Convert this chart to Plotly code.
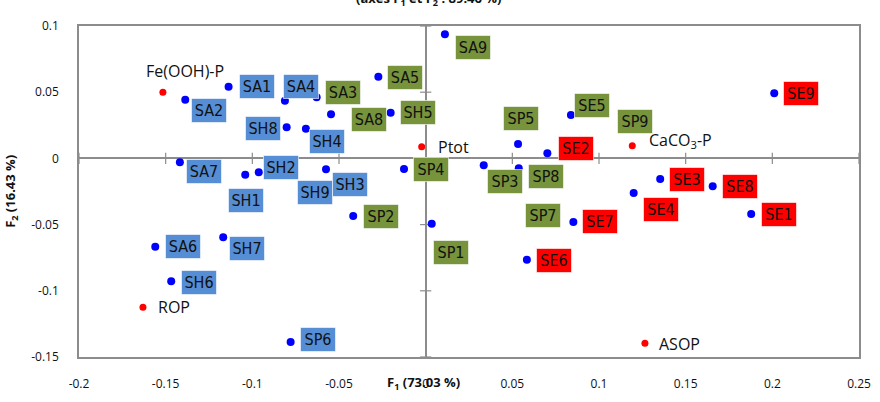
import plotly.graph_objects as go

# ---------------- data ----------------
sample_names = ["SA1", "SA2", "SA3", "SA4", "SA5", "SA6", "SA7", "SA8", "SA9",
                "SH1", "SH2", "SH3", "SH4", "SH5", "SH6", "SH7", "SH8", "SH9",
                "SP1", "SP2", "SP3", "SP4", "SP5", "SP6", "SP7", "SP8", "SP9",
                "SE1", "SE2", "SE3", "SE4", "SE5", "SE6", "SE7", "SE8", "SE9"]
sample_f1 = [-0.1137, -0.1387, -0.0629, -0.0812, -0.0273, -0.1560, -0.1418, -0.0546, 0.0111,
             -0.1041, -0.0963, -0.0575, -0.0691, -0.0202, -0.1468, -0.1168, -0.0802, -0.0656,
             0.0035, -0.0418, 0.0335, -0.0125, 0.0533, -0.0779, 0.0659, 0.0537, 0.1190,
             0.1878, 0.0702, 0.1353, 0.1200, 0.0838, 0.0584, 0.0852, 0.1656, 0.2011]
sample_f2 = [0.0542, 0.0443, 0.0461, 0.0436, 0.0617, -0.0667, -0.0029, 0.0333, 0.0937,
             -0.0123, -0.0105, -0.0082, 0.0224, 0.0345, -0.0928, -0.0596, 0.0235, -0.0254,
             -0.0493, -0.0435, -0.0052, -0.0080, 0.0109, -0.1387, -0.0420, -0.0075, 0.0260,
             -0.0420, 0.0039, -0.0156, -0.0261, 0.0328, -0.0765, -0.0480, -0.0211, 0.0492]
sample_group = ["b", "b", "g", "b", "g", "b", "b", "g", "g",
                "b", "b", "b", "b", "g", "b", "b", "b", "b",
                "g", "g", "g", "g", "g", "b", "g", "g", "g",
                "r", "r", "r", "r", "g", "r", "r", "r", "r"]

var_names = ["Fe(OOH)-P", "Ptot", "CaCO<sub>3</sub>-P", "ROP", "ASOP"]
var_f1 = [-0.1516, -0.0023, 0.1192, -0.1631, 0.1265]
var_f2 = [0.0499, 0.0088, 0.0096, -0.1125, -0.1397]

x_ticks = [-0.2, -0.15, -0.1, -0.05, 0, 0.05, 0.1, 0.15, 0.2, 0.25]
x_tick_text = ["-0.2", "-0.15", "-0.1", "-0.05", "0", "0.05", "0.1", "0.15", "0.2", "0.25"]
y_ticks = [-0.15, -0.1, -0.05, 0, 0.05, 0.1]
y_tick_text = ["-0.15", "-0.1", "-0.05", "0", "0.05", "0.1"]

title_text = "<b>(axes F<sub>1</sub> et F<sub>2</sub> : 89.46 %)</b>"
x_title = "<b>F<sub>1</sub> (73.03 %)</b>"
y_title = "<b>F<sub>2</sub> (16.43 %)</b>"

# ---------------- styles (label offsets in px) ----------------
label_shift = {
    "SA1": (28, 0), "SA2": (24, -11), "SA3": (26, 5), "SA4": (16, 14), "SA5": (27, -1),
    "SA6": (28, 0), "SA7": (24, -9), "SA8": (38, -5), "SA9": (28, -13),
    "SH1": (1, -26), "SH2": (22, 5), "SH3": (24, -15), "SH4": (21, -13), "SH5": (27, 0),
    "SH6": (28, -1), "SH7": (24, -11), "SH8": (-24, -1), "SH9": (3, 0),
    "SP1": (19, -29), "SP2": (28, -1), "SP3": (21, -16), "SP4": (27, -1), "SP5": (3, 25),
    "SP6": (27, 3), "SP7": (3, -1), "SP8": (27, -8), "SP9": (3, 2),
    "SE1": (28, 0), "SE2": (29, 5), "SE3": (27, 0), "SE4": (27, -17), "SE5": (21, 9),
    "SE6": (27, -1), "SE7": (27, 0), "SE8": (27, 0), "SE9": (27, 0),
}
var_shift = [(22, 21), (32, 0), (48, 5), (31, 0), (35, -1)]
box_colors = {"b": "#558ED5", "g": "#77933C", "r": "#FF0000"}
axis_gray = "#8C8C8C"
label_font = "Liberation Sans Narrow, DejaVu Sans Condensed, Arial Narrow, sans-serif"
base_font = "Open Sans, Liberation Sans, Arial, sans-serif"

fig = go.Figure()

# tick marks crossing the zero axes
fig.add_trace(go.Scatter(
    x=[t for t in x_ticks if t != 0], y=[0] * (len(x_ticks) - 1), mode="markers",
    marker=dict(symbol="line-ns", size=8, line=dict(width=1.2, color=axis_gray)),
    hoverinfo="skip", showlegend=False, cliponaxis=False))
fig.add_trace(go.Scatter(
    x=[0] * (len(y_ticks) - 1), y=[t for t in y_ticks if t != 0], mode="markers",
    marker=dict(symbol="line-ew", size=8, line=dict(width=1.2, color=axis_gray)),
    hoverinfo="skip", showlegend=False, cliponaxis=False))

fig.add_trace(go.Scatter(x=sample_f1, y=sample_f2, mode="markers",
                         marker=dict(color="#0000FF", size=8),
                         text=sample_names, showlegend=False))
fig.add_trace(go.Scatter(x=var_f1, y=var_f2, mode="markers",
                         marker=dict(color="#FF0000", size=7),
                         text=var_names, showlegend=False))

for name, x, y, g in zip(sample_names, sample_f1, sample_f2, sample_group):
    dx, dy = label_shift[name]
    fig.add_annotation(x=x, y=y, text=name, showarrow=False, xshift=dx, yshift=dy,
                       bgcolor=box_colors[g], bordercolor="rgba(255,255,255,0.6)",
                       borderwidth=1, borderpad=0, width=34, height=23,
                       font=dict(family=label_font, size=16, color="#111111"))

for name, x, y, (dx, dy) in zip(var_names, var_f1, var_f2, var_shift):
    fig.add_annotation(x=x, y=y, text=name, showarrow=False, xshift=dx, yshift=dy,
                       font=dict(family=base_font, size=16, color="#111111"))

# title (partly cut at top), axis titles
fig.add_annotation(xref="paper", yref="paper", x=0.4475, y=1.082, text=title_text,
                   showarrow=False, yanchor="middle",
                   font=dict(family=base_font, size=13, color="#111111"))
fig.add_annotation(xref="paper", yref="paper", x=0.442, y=-0.079, text=x_title,
                   showarrow=False, yanchor="middle",
                   font=dict(family=base_font, size=13, color="#111111"))
fig.add_annotation(xref="paper", yref="paper", x=-0.088, y=0.5, text=y_title,
                   showarrow=False, textangle=-90, xanchor="center",
                   font=dict(family=base_font, size=13, color="#111111"))

fig.update_xaxes(range=[-0.2, 0.25], tickvals=x_ticks, ticktext=x_tick_text,
                 showgrid=False, zeroline=True, zerolinecolor=axis_gray, zerolinewidth=1.5,
                 showline=True, linecolor=axis_gray, linewidth=1.5, mirror=True,
                 ticks="", ticklabelstandoff=15, automargin=False,
                 tickfont=dict(family=base_font, size=12, color="#111111"))
fig.update_yaxes(range=[-0.15, 0.1], tickvals=y_ticks, ticktext=y_tick_text,
                 showgrid=False, zeroline=True, zerolinecolor=axis_gray, zerolinewidth=1.5,
                 showline=True, linecolor=axis_gray, linewidth=1.5, mirror=True,
                 ticks="", ticklabelstandoff=16, automargin=False,
                 tickfont=dict(family=base_font, size=12, color="#111111"))

fig.update_layout(width=880, height=402, margin=dict(l=79, r=21, t=26, b=45),
                  plot_bgcolor="white", paper_bgcolor="white", showlegend=False)

fig.write_html("out.html")
